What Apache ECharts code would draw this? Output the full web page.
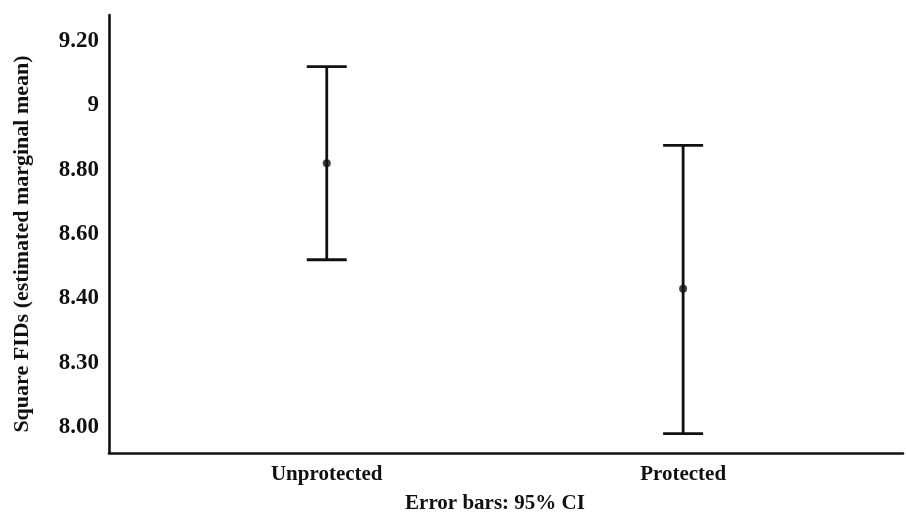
<!DOCTYPE html>
<html>
<head>
<meta charset="utf-8">
<script src="https://cdn.jsdelivr.net/npm/echarts@6/dist/echarts.min.js"></script>
<style>
html,body{margin:0;padding:0;background:#fff;}
#chart{width:906px;height:515px;}
</style>
</head>
<body>
<div id="chart"></div>
<script>
// Data
var categories = ['Unprotected', 'Protected'];
var means = [8.82, 8.43];
var ciLower = [8.52, 7.98];
var ciUpper = [9.12, 8.875];
// Tick positions on the axis and the labels printed there
var tickValues = [8.0, 8.2, 8.4, 8.6, 8.8, 9.0, 9.2];
var tickLabels = ['8.00', '8.30', '8.40', '8.60', '8.80', '9', '9.20'];

var FONT = '"Liberation Serif", "Times New Roman", serif';

var barData = categories.map(function (c, i) { return [i, ciLower[i], ciUpper[i]]; });
var meanData = categories.map(function (c, i) { return [i, means[i]]; });

var chart = echarts.init(document.getElementById('chart'), null, {renderer: 'canvas'});
chart.setOption({
  animation: false,
  backgroundColor: '#ffffff',
  grid: {left: 109, right: 3, top: 15, bottom: 62, containLabel: false, outerBoundsMode: 'none'},
  xAxis: {
    type: 'value',
    min: -0.611,
    max: 1.617,
    name: 'Error bars: 95% CI',
    nameLocation: 'middle',
    nameGap: 40,
    nameTextStyle: {fontFamily: FONT, fontWeight: 'bold', fontSize: 21, color: '#111', padding: [0, 22, 0, 0]},
    splitLine: {show: false},
    axisTick: {show: false},
    axisLine: {show: true, onZero: false, lineStyle: {color: '#111', width: 2.6}},
    axisLabel: {
      customValues: categories.map(function (c, i) { return i; }),
      formatter: function (v) { return categories[Math.round(v)] || ''; },
      fontFamily: FONT, fontWeight: 'bold', fontSize: 21, color: '#111', margin: 11
    }
  },
  yAxis: {
    type: 'value',
    min: 7.92,
    max: 9.28,
    name: 'Square FIDs (estimated marginal mean)',
    nameLocation: 'middle',
    nameGap: 76,
    nameTextStyle: {fontFamily: FONT, fontWeight: 'bold', fontSize: 22, color: '#111', padding: [0, 20, 0, 0]},
    splitLine: {show: false},
    axisTick: {show: false},
    axisLine: {show: true, onZero: false, lineStyle: {color: '#111', width: 2.6}},
    axisLabel: {
      customValues: tickValues,
      formatter: function (v) {
        for (var i = 0; i < tickValues.length; i++) {
          if (Math.abs(tickValues[i] - v) < 1e-6) return tickLabels[i];
        }
        return '';
      },
      fontFamily: FONT, fontWeight: 'bold', fontSize: 23, color: '#111', margin: 10
    }
  },
  series: [
    {
      type: 'custom',
      data: barData,
      encode: {x: 0, y: [1, 2]},
      renderItem: function (params, api) {
        var x = api.value(0);
        var lo = api.coord([x, api.value(1)]);
        var hi = api.coord([x, api.value(2)]);
        var hw = 20;
        var style = {stroke: '#111', lineWidth: 2.8, fill: null};
        return {
          type: 'group',
          children: [
            {type: 'line', shape: {x1: lo[0], y1: lo[1], x2: hi[0], y2: hi[1]}, style: style},
            {type: 'line', shape: {x1: hi[0] - hw, y1: hi[1], x2: hi[0] + hw, y2: hi[1]}, style: style},
            {type: 'line', shape: {x1: lo[0] - hw, y1: lo[1], x2: lo[0] + hw, y2: lo[1]}, style: style}
          ]
        };
      },
      z: 2
    },
    {
      type: 'scatter',
      data: meanData,
      symbol: 'circle',
      symbolSize: 8,
      itemStyle: {color: '#111'},
      z: 3
    }
  ]
});
</script>
</body>
</html>
